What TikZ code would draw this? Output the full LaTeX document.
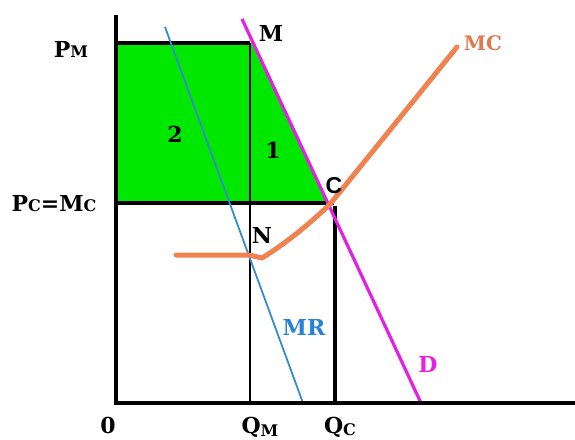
\documentclass[tikz,border=0pt]{standalone}
\usepackage{fontspec}
\setmainfont{DejaVu Serif}
\newfontfamily\sanslbl{Liberation Sans}
\definecolor{areagreen}{RGB}{0,232,0}
\definecolor{demandmag}{RGB}{228,32,228}
\definecolor{mrblue}{RGB}{52,140,205}
\definecolor{mrtext}{RGB}{40,130,215}
\definecolor{mcorange}{RGB}{240,130,80}
\definecolor{mctext}{RGB}{225,120,80}
\newcommand\smc[1]{{\fontsize{16}{16}\selectfont #1}}
\tikzset{
  axisline/.style={line width=4pt, black},
  guide/.style={line width=3.6pt, black},
  thinguide/.style={line width=2.4pt, black},
  demandline/.style={line width=3.2pt, demandmag},
  mrline/.style={line width=1.8pt, mrblue},
  mcline/.style={line width=5pt, mcorange, line join=round, line cap=round},
  lbl/.style={font=\bfseries\fontsize{22}{22}\selectfont, anchor=base, inner sep=0pt},
}
\begin{document}
\begin{tikzpicture}[x=1pt,y=-1pt]
\useasboundingbox (0,0) rectangle (575,439);
% key points
\coordinate (O) at (116,403);
\coordinate (ytop) at (116,15);
\coordinate (xend) at (575,403);
\coordinate (pm) at (116,43);
\coordinate (qmtop) at (250,43);
\coordinate (qmbot) at (250,403);
\coordinate (mpt) at (253,43);
\coordinate (pc) at (116,203);
\coordinate (cpt) at (328,203);
\coordinate (pcend) at (334,203);
\coordinate (qctop) at (335,206);
\coordinate (qcbot) at (335,403);
\coordinate (dtop) at (242,19);
\coordinate (dbot) at (421,403);
\coordinate (mrtop) at (165,27);
\coordinate (mrbot) at (303,403);
\coordinate (mcstart) at (176,255);
\coordinate (npt) at (249,255);
\coordinate (dip) at (262,258);
\coordinate (mcc) at (331,203);
\coordinate (mcend) at (457,47);
% area
\fill[areagreen] (pm) -- (mpt) -- (cpt) -- (pc) -- cycle;
% guide lines
\draw[guide] (pm) -- (qmtop);
\draw[guide] (pc) -- (pcend);
\draw[thinguide] (qmtop) -- (qmbot);
\draw[guide] (qctop) -- (qcbot);
% curves
\draw[mrline] (mrtop) -- (mrbot);
\draw[demandline] (dtop) -- (dbot);
\draw[mcline] (mcstart) -- (npt) -- (dip) .. controls (285,244) and (312,222) .. (mcc) -- (mcend);
% axes
\draw[axisline] (ytop) -- (O) -- (xend);
% labels
\node[lbl] (lpm) at (71,57) {P\smc{M}};
\node[lbl] (lm) at (271,41) {M};
\node[lbl] (l2) at (175,142) {2};
\node[lbl] (l1) at (273,158) {1};
\node[lbl, font=\sanslbl\bfseries\fontsize{23}{23}\selectfont] (lc) at (334,193) {C};
\node[lbl] (lpc) at (54,211) {P\smc{C}=M\smc{C}};
\node[lbl] (ln) at (262,243) {N};
\node[lbl, text=mctext, font=\bfseries\fontsize{20}{20}\selectfont] (lmc) at (483,50) {MC};
\node[lbl, text=mrtext] (lmr) at (304,335) {MR};
\node[lbl, text=demandmag] (ld) at (428,372) {D};
\node[lbl] (lo) at (108,433) {0};
\node[lbl] (lqm) at (260,433) {Q\raisebox{-3pt}{\smc{M}}};
\node[lbl] (lqc) at (340,433) {Q\raisebox{-2pt}{\smc{C}}};
\end{tikzpicture}
\end{document}
